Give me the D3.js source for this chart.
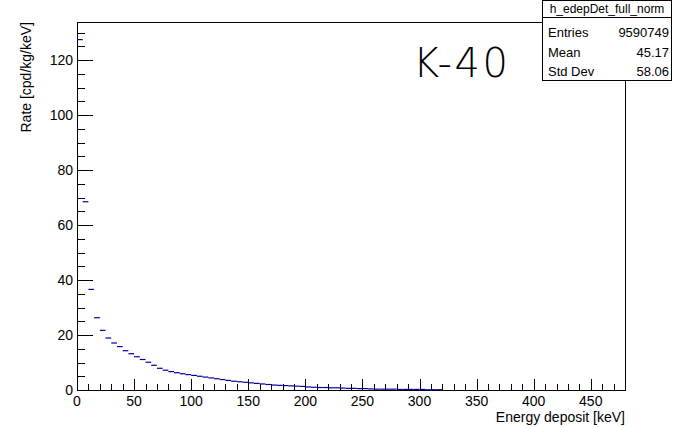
<!DOCTYPE html>
<html>
<head>
<meta charset="utf-8">
<script src="https://cdn.jsdelivr.net/npm/d3@7"></script>
<style>
  body { margin: 0; background: #fff; }
  svg { display: block; font-family: "Liberation Sans", Arial, sans-serif; }
  .tick-label { font-size: 14px; fill: #000; }
  .axis-title { font-size: 14px; fill: #000; }
</style>
</head>
<body>
<div id="chart"></div>
<script>
// histogram contents, 5 keV bins starting at 0 keV
const binWidth = 5;
const binLow = d3.range(0, 320, binWidth);
const rates = [
  127.5, 68.5, 36.6, 26.3, 21.7, 18.9, 17.1, 15.8, 14.3, 13.2,
  12.1, 11.1, 10.1, 9.0, 7.9, 7.2, 6.7, 6.3, 5.9, 5.6,
  5.3, 5.0, 4.7, 4.4, 4.1, 3.8, 3.5, 3.2, 3.0, 2.8,
  2.6, 2.4, 2.2, 2.0, 1.8, 1.7, 1.6, 1.5, 1.4, 1.3,
  1.1, 1.0, 0.9, 0.9, 0.8, 0.8, 0.7, 0.6, 0.6, 0.5,
  0.5, 0.4, 0.3, 0.3, 0.3, 0.3, 0.2, 0.2, 0.2, 0.2,
  0.2, 0.1, 0.1, 0.1
];
const xTicks = [0, 50, 100, 150, 200, 250, 300, 350, 400, 450];
const yTicks = [0, 20, 40, 60, 80, 100, 120];
const statsLabels = ["Entries", "Mean", "Std Dev"];
const statsValues = ["9590749", "45.17", "58.06"];
const histName = "h_edepDet_full_norm";

const width = 673, height = 427;
const frame = { left: 77, right: 625, top: 22, bottom: 390 };

const svg = d3.select("#chart").append("svg")
  .attr("width", width)
  .attr("height", height);

svg.append("rect").attr("width", width).attr("height", height).attr("fill", "#fff");

const x = d3.scaleLinear().domain([0, 480]).range([frame.left, frame.right]);
const y = d3.scaleLinear().domain([0, 133.9]).range([frame.bottom, frame.top]);

// frame
svg.append("rect")
  .attr("x", frame.left + 0.5)
  .attr("y", frame.top + 0.5)
  .attr("width", frame.right - frame.left)
  .attr("height", frame.bottom - frame.top)
  .attr("fill", "none")
  .attr("stroke", "#000");

// x ticks (inward)
svg.append("g")
  .selectAll("line")
  .data(d3.range(0, 481, 10))
  .join("line")
    .attr("x1", d => Math.round(x(d)) + 0.5)
    .attr("x2", d => Math.round(x(d)) + 0.5)
    .attr("y1", frame.bottom)
    .attr("y2", d => frame.bottom - (d % 50 === 0 ? 11 : 6))
    .attr("stroke", "#000");

svg.append("g")
  .selectAll("text")
  .data(xTicks)
  .join("text")
    .attr("class", "tick-label")
    .attr("x", d => x(d))
    .attr("y", 406)
    .attr("text-anchor", "middle")
    .text(d => d);

// y ticks (inward)
svg.append("g")
  .selectAll("line")
  .data(d3.range(0, 131, 5))
  .join("line")
    .attr("x1", frame.left)
    .attr("x2", d => frame.left + (d % 20 === 0 ? 16 : 8))
    .attr("y1", d => Math.round(y(d)) + 0.5)
    .attr("y2", d => Math.round(y(d)) + 0.5)
    .attr("stroke", "#000");

svg.append("g")
  .selectAll("text")
  .data(yTicks)
  .join("text")
    .attr("class", "tick-label")
    .attr("x", 73)
    .attr("y", d => y(d))
    .attr("dy", "0.36em")
    .attr("text-anchor", "end")
    .text(d => d);

// axis titles
svg.append("text")
  .attr("class", "axis-title")
  .attr("x", frame.right)
  .attr("y", 422)
  .attr("text-anchor", "end")
  .text("Energy deposit [keV]");

svg.append("text")
  .attr("class", "axis-title")
  .attr("transform", "rotate(-90)")
  .attr("x", -frame.top)
  .attr("y", 31)
  .attr("text-anchor", "end")
  .text("Rate [cpd/kg/keV]");

// histogram bins as horizontal markers
svg.append("g")
  .selectAll("line")
  .data(rates.map((r, i) => ({ lo: binLow[i], r })).filter(d => d.r > 0))
  .join("line")
    .attr("x1", d => x(d.lo))
    .attr("x2", d => x(d.lo + binWidth))
    .attr("y1", d => y(d.r))
    .attr("y2", d => y(d.r))
    .attr("stroke", "#000099")
    .attr("stroke-width", 1.2);

// label
svg.append("text")
  .attr("x", 413)
  .attr("y", 77)
  .attr("font-family", "'DejaVu Sans', sans-serif")
  .attr("font-weight", 300)
  .attr("font-size", 40)
  .attr("letter-spacing", 2.5)
  .attr("fill", "#000")
  .text("K-40");

// stats box
const box = svg.append("g");
box.append("rect")
  .attr("x", 542.5).attr("y", 0.5)
  .attr("width", 129).attr("height", 80)
  .attr("fill", "#fff").attr("stroke", "#000");
box.append("line")
  .attr("x1", 542.5).attr("x2", 671.5)
  .attr("y1", 17.5).attr("y2", 17.5)
  .attr("stroke", "#000");
box.append("text")
  .attr("x", 607).attr("y", 13)
  .attr("text-anchor", "middle")
  .attr("font-size", 12)
  .text(histName);
statsLabels.forEach((lab, i) => {
  box.append("text")
    .attr("x", 548).attr("y", 37 + i * 19.5)
    .attr("font-size", 13)
    .text(lab);
  box.append("text")
    .attr("x", 669).attr("y", 37 + i * 19.5)
    .attr("text-anchor", "end")
    .attr("font-size", 13)
    .text(statsValues[i]);
});
</script>
</body>
</html>
